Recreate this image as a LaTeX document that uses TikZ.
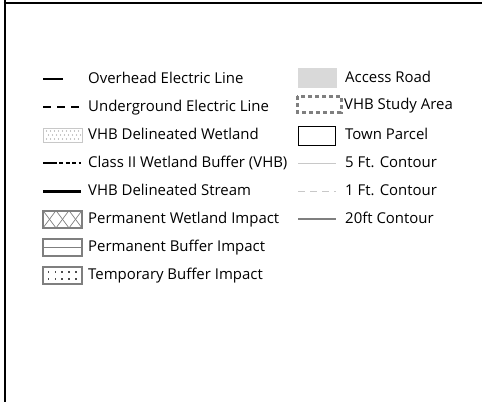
\documentclass[tikz,border=0pt]{standalone}
\usepackage{fontspec}
\setmainfont{Open Sans}
\usepackage{tikz}
\usetikzlibrary{positioning}
\definecolor{edgegray}{HTML}{7F7F7F}
\definecolor{roadgray}{HTML}{D9D9D9}
\definecolor{thingray}{HTML}{C8C8C8}
\tikzset
{
  legtext/.style = {anchor=mid west, yshift=-1.5bp, inner sep=0pt, font=\fontsize{15}{17}\selectfont, text=black},
  legbox/.style  = {draw=edgegray, line width=2bp},
  frameline/.style = {line width=2.3bp, black}
}

\begin{document}
\begin{tikzpicture}[x=1bp,y=-1bp]
  \useasboundingbox (0,0) rectangle (482,402);
  % frame
  \draw[frameline] (4.7,0) -- (4.7,402);
  \draw[frameline] (3.5,2.8) -- (482,2.8);

  % left column symbols
  \draw[line width=2bp] (43,79) -- (63,79);
  \draw[line width=2bp, dash pattern=on 8bp off 6bp] (43,107) -- (79,107);
  \draw[draw=thingray, line width=0.8bp] (43,128) rectangle (82,142);
  \foreach \i in {0,...,8}
    \foreach \j in {0,1,2}
      \fill[gray!90] ({46.5+4*\i+2*mod(\j,2)},{131+4*\j}) circle (0.55bp);
  \draw[line width=1.5bp] (43,163) -- (57,163);
  \draw[line width=1.5bp, dash pattern=on 4bp off 2.5bp] (59,163) -- (81,163);
  \draw[line width=3bp] (43,191) -- (81,191);
  \begin{scope}
    \clip (43,210.5) rectangle (82,228);
    \foreach \k in {0,1,2}
    {
      \draw[edgegray, line width=0.7bp] ({43+13*\k},210.5) -- ({56+13*\k},228);
      \draw[edgegray, line width=0.7bp] ({43+13*\k},228) -- ({56+13*\k},210.5);
    }
  \end{scope}
  \draw[legbox] (43,210.5) rectangle (82,228);
  \draw[legbox] (43,238.5) rectangle (82,256);
  \draw[edgegray, line width=0.8bp] (43,247.3) -- (82,247.3);
  \draw[legbox] (43,266.5) rectangle (82,284);
  \foreach \i in {0,...,4}
    \foreach \j in {0,1}
      \fill[black!70] ({48.5+6.8*\i-0.8},{272+7*\j-0.8}) rectangle ++(1.6,1.6);

  % left column texts
  \node[legtext] (overhead)  at (88,79)  {Overhead Electric Line};
  \node[legtext] (underground) at (88,107) {Underground Electric Line};
  \node[legtext] (wetland)   at (88,135) {VHB Delineated Wetland};
  \node[legtext] (classtwo)  at (88,163) {Class II Wetland Buffer (VHB)};
  \node[legtext] (stream)    at (88,191) {VHB Delineated Stream};
  \node[legtext] (permwet)   at (88,219) {Permanent Wetland Impact};
  \node[legtext] (permbuf)   at (88,247) {Permanent Buffer Impact};
  \node[legtext] (tempbuf)   at (88,275) {Temporary Buffer Impact};

  % right column symbols
  \fill[roadgray] (298,68) rectangle (337,88);
  \draw[edgegray, line width=3bp, dash pattern=on 4bp off 3bp] (297,96) rectangle (341,112);
  \draw[black, line width=1bp] (298,126) rectangle (335,145);
  \draw[thingray, line width=0.9bp] (298,163) -- (336,163);
  \draw[thingray, line width=0.9bp, dash pattern=on 7bp off 5bp] (298,191) -- (336,191);
  \draw[edgegray, line width=2.2bp] (298,219) -- (336,219);

  % right column texts
  \node[legtext] (road)   at (345,78)  {Access Road};
  \node[legtext] (study)  at (344,105) {VHB Study Area};
  \node[legtext] (parcel) at (345,135) {Town Parcel};
  \node[legtext] (five)   at (345,163) {5 Ft. Contour};
  \node[legtext] (one)    at (345,191) {1 Ft. Contour};
  \node[legtext] (twenty) at (345,219) {20ft Contour};
\end{tikzpicture}
\end{document}
